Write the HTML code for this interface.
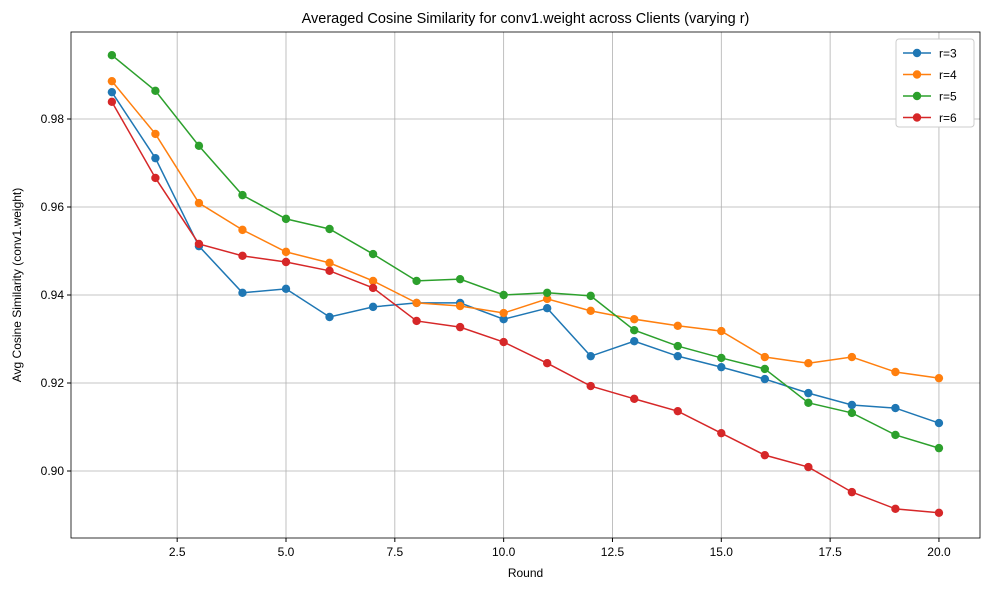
<!DOCTYPE html>
<html><head><meta charset="utf-8"><style>body{margin:0;background:#fff}svg{display:block;font-family:"Liberation Sans","DejaVu Sans",sans-serif}</style></head>
<body>
<svg id="chart" width="989" height="590"></svg>
<script>
const rounds=[1,2,3,4,5,6,7,8,9,10,11,12,13,14,15,16,17,18,19,20];
const r3=[0.9861,0.9711,0.9511,0.9405,0.9414,0.9350,0.9373,0.9382,0.9382,0.9345,0.9370,0.9261,0.9295,0.9261,0.9236,0.9209,0.9177,0.9150,0.9143,0.9109];
const r4=[0.9886,0.9766,0.9609,0.9548,0.9498,0.9473,0.9432,0.9382,0.9375,0.9359,0.9391,0.9364,0.9345,0.9330,0.9318,0.9259,0.9245,0.9259,0.9225,0.9211];
const r5=[0.9945,0.9864,0.9739,0.9627,0.9573,0.9550,0.9493,0.9432,0.9436,0.9400,0.9405,0.9398,0.9320,0.9284,0.9257,0.9232,0.9155,0.9132,0.9082,0.9052];
const r6=[0.9839,0.9666,0.9516,0.9489,0.9475,0.9455,0.9416,0.9341,0.9327,0.9293,0.9245,0.9193,0.9164,0.9136,0.9086,0.9036,0.9009,0.8952,0.8914,0.8905];
const seriesNames=["r=3","r=4","r=5","r=6"];
const xTicks=[2.5,5.0,7.5,10.0,12.5,15.0,17.5,20.0];
const yTicks=[0.90,0.92,0.94,0.96,0.98];
const colors=["#1f77b4","#ff7f0e","#2ca02c","#d62728"];
const L=71,R=980,T=32,B=538;
const X=v=>286+(v-5)*43.53;
const Y=v=>471-(v-0.90)*4400;
const svg=document.getElementById('chart');
const NS="http://www.w3.org/2000/svg";
function mk(tag,attrs,parent){const e=document.createElementNS(NS,tag);for(const k in attrs)e.setAttribute(k,attrs[k]);(parent||svg).appendChild(e);return e;}
const grid=mk('g',{});


xTicks.forEach(t=>{const x=X(t);
mk('line',{x1:x,x2:x,y1:T,y2:B,stroke:'#b0b0b0','stroke-width':0.8},grid);
mk('line',{x1:x,x2:x,y1:B,y2:B+4,stroke:'#000'});
const tx=mk('text',{x:x,y:B+18,'text-anchor':'middle','font-size':12});tx.textContent=t.toFixed(1);

});
yTicks.forEach(t=>{const y=Y(t);
mk('line',{x1:L,x2:R,y1:y,y2:y,stroke:'#b0b0b0','stroke-width':0.8},grid);
mk('line',{x1:L-4,x2:L,y1:y,y2:y,stroke:'#000'});
const tx=mk('text',{x:L-7,y:y+4,'text-anchor':'end','font-size':12});tx.textContent=t.toFixed(2);

});
[r3,r4,r5,r6].forEach((s,i)=>{const g=mk('g',{});


mk('polyline',{points:s.map((v,j)=>X(rounds[j])+','+Y(v)).join(' '),fill:'none',stroke:colors[i],'stroke-width':1.5},g);
s.forEach((v,j)=>{const c=mk('circle',{cx:X(rounds[j]),cy:Y(v),r:4.2,fill:colors[i]},g);

});});
const frame=mk('rect',{x:L,y:T,width:R-L,height:B-T,fill:'none',stroke:'#000','stroke-width':0.8});


const title=mk('text',{x:(L+R)/2,y:23,'text-anchor':'middle','font-size':14.5});title.textContent='Averaged Cosine Similarity for conv1.weight across Clients (varying r)';


const xl=mk('text',{x:(L+R)/2,y:577,'text-anchor':'middle','font-size':12});xl.textContent='Round';


const yl=mk('text',{x:0,y:0,'text-anchor':'middle','font-size':12,transform:'translate(21,'+((T+B)/2)+') rotate(-90)'});yl.textContent='Avg Cosine Similarity (conv1.weight)';


const lg=mk('g',{});


mk('rect',{x:896,y:39,width:78,height:88,rx:3,fill:'#fff',stroke:'#ccc'},lg);
seriesNames.forEach((n,i)=>{const y=53+i*21.5;
mk('line',{x1:903,x2:931,y1:y,y2:y,stroke:colors[i],'stroke-width':1.5},lg);
mk('circle',{cx:917,cy:y,r:4.2,fill:colors[i]},lg);
const t=mk('text',{x:939,y:y+4.5,'font-size':12},lg);t.textContent=n;

});
</script>
</body></html>
